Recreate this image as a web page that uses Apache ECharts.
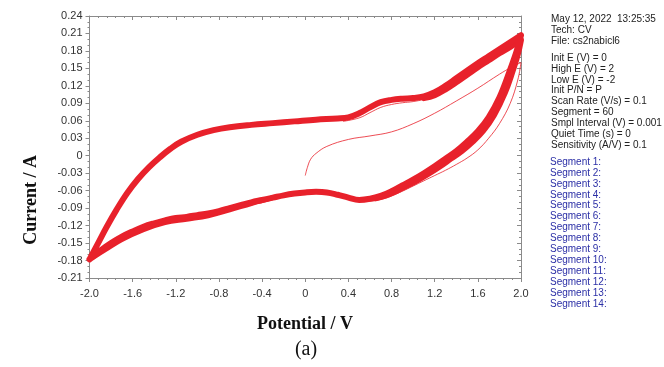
<!DOCTYPE html>
<html>
<head>
<meta charset="utf-8">
<script src="https://cdn.jsdelivr.net/npm/echarts@6/dist/echarts.min.js"></script>
<style>
html,body{margin:0;padding:0;background:#fff;}
#chart{width:664px;height:367px;}
</style>
</head>
<body>
<div id="chart"></div>
<script>
// ---- Data ----
// Main cyclic voltammogram loop (overlapping cycles), anodic branch -2 -> 2
var anodicE = [-2.0,-1.92,-1.84,-1.75,-1.65,-1.55,-1.45,-1.35,-1.25,-1.15,-1.0,-0.85,-0.7,-0.5,-0.3,-0.1,0.1,0.3,0.4,0.5,0.6,0.7,0.8,0.9,1.0,1.1,1.2,1.3,1.4,1.5,1.6,1.7,1.8,1.9,2.0];
var anodicI = [-0.178,-0.150,-0.122,-0.093,-0.064,-0.040,-0.020,-0.003,0.012,0.024,0.036,0.044,0.049,0.053,0.056,0.059,0.062,0.064,0.066,0.073,0.083,0.092,0.096,0.098,0.099,0.102,0.109,0.120,0.133,0.146,0.159,0.171,0.183,0.195,0.207];
// cathodic branch 2 -> -2
var cathodicE = [2.0,1.96,1.9,1.8,1.7,1.6,1.5,1.4,1.3,1.2,1.1,1.0,0.9,0.8,0.7,0.6,0.5,0.4,0.3,0.2,0.1,0.0,-0.1,-0.2,-0.3,-0.4,-0.5,-0.6,-0.7,-0.8,-0.9,-1.0,-1.1,-1.2,-1.3,-1.4,-1.5,-1.6,-1.7,-1.8,-1.9,-2.0];
var cathodicI = [0.207,0.180,0.148,0.100,0.066,0.042,0.024,0.008,-0.005,-0.018,-0.030,-0.041,-0.051,-0.061,-0.069,-0.074,-0.076,-0.072,-0.067,-0.063,-0.062,-0.063,-0.065,-0.068,-0.072,-0.076,-0.080,-0.085,-0.090,-0.095,-0.099,-0.102,-0.105,-0.107,-0.111,-0.116,-0.122,-0.130,-0.139,-0.150,-0.163,-0.178];
// Inner edge of the wide part of the band (later cycles), right side
var bandRightE = [1.1,1.2,1.3,1.4,1.5,1.6,1.7,1.8,1.9,2.0,1.97,1.92,1.85,1.75,1.65,1.55,1.45,1.35,1.25,1.15,1.05,0.95,0.85,0.75,0.65];
var bandRightI = [0.099,0.104,0.114,0.126,0.139,0.152,0.164,0.176,0.187,0.199,0.174,0.144,0.108,0.070,0.043,0.024,0.008,-0.005,-0.018,-0.030,-0.041,-0.051,-0.060,-0.068,-0.073];
// Lower edge of the band on the left cathodic branch
var bandLowE = [-0.3,-0.5,-0.7,-0.9,-1.1,-1.3,-1.5,-1.7,-1.85,-1.97];
var bandLowI = [-0.072,-0.082,-0.093,-0.103,-0.109,-0.115,-0.127,-0.144,-0.161,-0.175];
// First segment (thin line): start at 0 V, up to 2 V and back
var firstE = [0.0,0.02,0.05,0.1,0.2,0.4,0.6,0.8,1.0,1.2,1.4,1.6,1.8,1.92,2.0,1.97,1.9,1.8,1.7,1.6,1.5,1.4,1.3,1.2,1.1,1.0,0.9,0.8,0.7,0.6,0.5];
var firstI = [-0.034,-0.020,-0.006,0.004,0.016,0.028,0.034,0.041,0.055,0.073,0.094,0.116,0.140,0.153,0.160,0.130,0.090,0.055,0.030,0.010,-0.004,-0.015,-0.025,-0.034,-0.043,-0.052,-0.061,-0.069,-0.075,-0.078,-0.078];
// Second segment anodic part (thin line just below the band)
var secondE = [0.35,0.5,0.6,0.7,0.8,0.9,1.0,1.1,1.2,1.3];
var secondI = [0.059,0.065,0.074,0.083,0.088,0.091,0.093,0.097,0.104,0.114];

var xTickLabels = ['-2.0','-1.6','-1.2','-0.8','-0.4','0','0.4','0.8','1.2','1.6','2.0'];
var yTickLabels = ['-0.21','-0.18','-0.15','-0.12','-0.09','-0.06','-0.03','0','0.03','0.06','0.09','0.12','0.15','0.18','0.21','0.24'];

var infoLines = ['Tech: CV','File: cs2nabicl6'];
var paramLines = ['Init E (V) = 0','High E (V) = 2','Low E (V) = -2','Init P/N = P','Scan Rate (V/s) = 0.1','Segment = 60','Smpl Interval (V) = 0.001','Quiet Time (s) = 0','Sensitivity (A/V) = 0.1'];
var segmentLines = ['Segment 1:','Segment 2:','Segment 3:','Segment 4:','Segment 5:','Segment 6:','Segment 7:','Segment 8:','Segment 9:','Segment 10:','Segment 11:','Segment 12:','Segment 13:','Segment 14:'];

function pairs(xs, ys){ return xs.map(function(x,i){ return [x, ys[i]]; }); }

var loopData = pairs(anodicE, anodicI).concat(pairs(cathodicE, cathodicI).slice(1));

var RED = '#e8212b';
var chart = echarts.init(document.getElementById('chart'), null, {renderer:'canvas'});

var FONT = '10px "Liberation Sans", Arial, sans-serif';
var graphics = [];
var tx = 551;
graphics.push({type:'text', left:tx, top:14, style:{text:'May 12, 2022', font:FONT, fill:'#222'}});
graphics.push({type:'text', left:617, top:14, style:{text:'13:25:35', font:FONT, fill:'#222'}});
infoLines.forEach(function(t,i){
  graphics.push({type:'text', left:tx, top:25 + i*11, style:{text:t, font:FONT, fill:'#222'}});
});
paramLines.forEach(function(t,i){
  graphics.push({type:'text', left:tx, top:53 + i*10.9, style:{text:t, font:FONT, fill:'#222'}});
});
segmentLines.forEach(function(t,i){
  graphics.push({type:'text', left:550, top:157 + i*10.92, style:{text:t, font:FONT, fill:'#2b2fa6'}});
});
graphics.push({type:'text', left:22, top:155, rotation:Math.PI/2, style:{text:'Current / A', font:'bold 18px "Liberation Serif", "Times New Roman", serif', fill:'#111', textAlign:'center', textVerticalAlign:'middle'}});
graphics.push({type:'text', x:305, y:324, style:{text:'Potential / V', font:'bold 18px "Liberation Serif", "Times New Roman", serif', fill:'#111', textAlign:'center', textVerticalAlign:'middle'}});
graphics.push({type:'text', x:306, y:350, style:{text:'(a)', font:'20px "Liberation Serif", "Times New Roman", serif', fill:'#111', textAlign:'center', textVerticalAlign:'middle'}});

var axisLineStyle = {color:'#8a8a8a', width:1};

var option = {
  backgroundColor:'#fff',
  animation:false,
  grid:{left:89.5, right:143, top:16, bottom:89, containLabel:false},
  xAxis:[{
    type:'value', min:-2, max:2, interval:0.4, position:'bottom',
    axisLine:{show:true, onZero:false, lineStyle:axisLineStyle},
    axisTick:{show:true, inside:false, length:4, lineStyle:axisLineStyle},
    minorTick:{show:true, splitNumber:5, length:2, lineStyle:axisLineStyle},
    splitLine:{show:false},
    axisLabel:{margin:10, color:'#333', fontSize:11, fontFamily:'"Liberation Sans", Arial, sans-serif',
      formatter:function(v){ var k=Math.round((v+2)/0.4); return xTickLabels[k]; }}
  },{
    type:'value', min:-2, max:2, interval:0.4, position:'top',
    axisLine:{show:true, onZero:false, lineStyle:axisLineStyle},
    axisTick:{show:true, inside:true, length:4, lineStyle:axisLineStyle},
    minorTick:{show:true, splitNumber:5, length:2, lineStyle:axisLineStyle},
    splitLine:{show:false}, axisLabel:{show:false}
  }],
  yAxis:[{
    type:'value', min:-0.21, max:0.24, interval:0.03, position:'left',
    axisLine:{show:true, onZero:false, lineStyle:axisLineStyle},
    axisTick:{show:true, inside:false, length:4, lineStyle:axisLineStyle},
    minorTick:{show:true, splitNumber:3, length:2, lineStyle:axisLineStyle},
    splitLine:{show:false},
    axisLabel:{margin:7, color:'#333', fontSize:11, fontFamily:'"Liberation Sans", Arial, sans-serif',
      formatter:function(v){ var k=Math.round((v+0.21)/0.03); return yTickLabels[k]; }}
  },{
    type:'value', min:-0.21, max:0.24, interval:0.03, position:'right',
    axisLine:{show:true, onZero:false, lineStyle:axisLineStyle},
    axisTick:{show:true, inside:true, length:4, lineStyle:axisLineStyle},
    minorTick:{show:true, splitNumber:3, length:2, lineStyle:axisLineStyle},
    splitLine:{show:false}, axisLabel:{show:false}
  }],
  series:[
    {type:'line', name:'first', data:pairs(firstE, firstI), smooth:0.4, showSymbol:false,
      lineStyle:{color:RED, width:1, opacity:0.8}},
    {type:'line', name:'second', data:pairs(secondE, secondI), smooth:0.4, showSymbol:false,
      lineStyle:{color:RED, width:1, opacity:0.8}},
    {type:'line', name:'bandRight', data:pairs(bandRightE, bandRightI), smooth:0.4, showSymbol:false,
      lineStyle:{color:RED, width:6, cap:'round', join:'round'}},
    {type:'line', name:'bandLow', data:pairs(bandLowE, bandLowI), smooth:0.4, showSymbol:false,
      lineStyle:{color:RED, width:5, cap:'round', join:'round'}},
    {type:'line', name:'cycles', data:loopData, smooth:0.4, showSymbol:false,
      lineStyle:{color:RED, width:6, cap:'round', join:'round'}}
  ],
  graphic:graphics
};
chart.setOption(option);
</script>
</body>
</html>
